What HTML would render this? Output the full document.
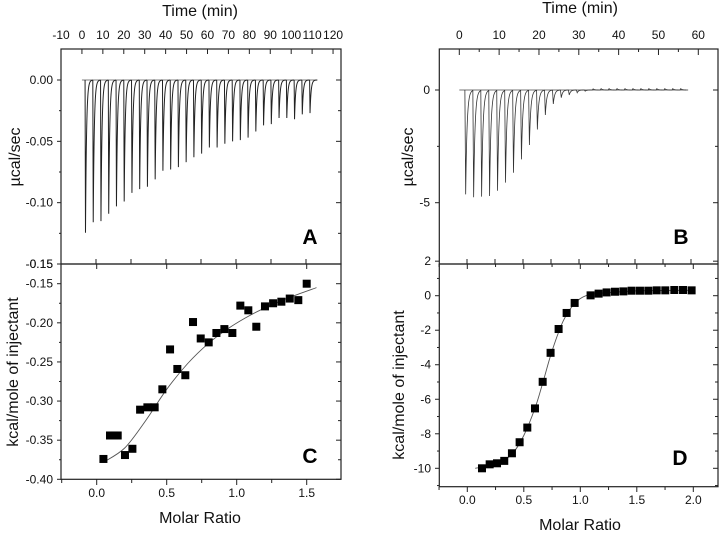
<!DOCTYPE html>
<html><head><meta charset="utf-8"><style>
html,body{margin:0;padding:0;background:#fff;}
svg{display:block;font-family:"Liberation Sans",Arial,sans-serif;}
.tl{font-size:12px;fill:#111;}
.at{font-size:16px;fill:#111;}
.pl{font-size:21px;font-weight:bold;fill:#000;}
</style></head><body>
<svg id="fig" width="720" height="533" viewBox="0 0 720 533">
<g id="root"></g>
</svg>
<script>
// Panel A thermogram
const aTimes = [1.7,5.4,9.1,12.8,16.5,20.2,23.9,27.6,31.3,35.0,38.7,42.4,46.1,49.8,53.5,57.2,60.9,64.6,68.3,72.0,75.7,79.4,83.1,86.8,90.5,94.2,97.9,101.6,105.3,109.0];
const aDepths = [-0.1245,-0.116,-0.115,-0.109,-0.103,-0.099,-0.092,-0.089,-0.087,-0.081,-0.074,-0.073,-0.071,-0.067,-0.063,-0.060,-0.055,-0.055,-0.052,-0.050,-0.049,-0.047,-0.042,-0.037,-0.036,-0.031,-0.031,-0.032,-0.028,-0.027];
const aTicksX = [-10,0,10,20,30,40,50,60,70,80,90,100,110,120];
const aTicksY = [0.00,-0.05,-0.10,-0.15];
const aTickLabelsY = ["0.00","-0.05","-0.10","-0.15"];
// Panel B thermogram
const bTimes = [1.6,3.6,5.6,7.6,9.6,11.6,13.6,15.6,17.6,19.6,21.6,23.6,25.6,27.6,29.6,31.6,33.6,35.6,37.6,39.6,41.6,43.6,45.6,47.6,49.6,51.6,53.6,55.6];
const bDepths = [-4.63,-4.76,-4.73,-4.70,-4.47,-4.11,-3.67,-3.08,-2.44,-1.75,-1.11,-0.62,-0.34,-0.22,-0.12,-0.05,0.05,0.06,0.06,0.06,0.06,0.06,0.06,0.06,0.06,0.06,0.06,0.06];
const bTicksX = [0,10,20,30,40,50,60];
const bTicksY = [0,-5];
// Panel C integrated heats
const cX = [0.048,0.095,0.126,0.150,0.202,0.255,0.310,0.362,0.414,0.469,0.524,0.576,0.633,0.688,0.743,0.800,0.855,0.912,0.969,1.026,1.083,1.140,1.202,1.260,1.319,1.379,1.440,1.500];
const cY = [-0.374,-0.344,-0.344,-0.344,-0.369,-0.361,-0.311,-0.308,-0.308,-0.285,-0.234,-0.259,-0.267,-0.199,-0.220,-0.225,-0.213,-0.208,-0.213,-0.178,-0.184,-0.205,-0.179,-0.175,-0.173,-0.169,-0.171,-0.150];
const cFitX = [0.05,0.2,0.35,0.5,0.65,0.8,0.95,1.1,1.25,1.4,1.57];
const cFitY = [-0.378,-0.360,-0.325,-0.285,-0.252,-0.226,-0.206,-0.190,-0.177,-0.166,-0.155];
const cTicksX = [0.0,0.5,1.0,1.5];
const cTickLabelsX = ["0.0","0.5","1.0","1.5"];
const cTicksY = [-0.15,-0.20,-0.25,-0.30,-0.35,-0.40];
const cTickLabelsY = ["-0.15","-0.20","-0.25","-0.30","-0.35","-0.40"];
// Panel D integrated heats
const dX = [0.130,0.198,0.263,0.327,0.395,0.463,0.531,0.599,0.667,0.737,0.808,0.879,0.950,1.091,1.162,1.233,1.307,1.381,1.454,1.528,1.602,1.676,1.752,1.832,1.909,1.985];
const dY = [-10.0,-9.77,-9.71,-9.57,-9.13,-8.49,-7.64,-6.53,-4.99,-3.31,-1.93,-1.00,-0.42,0.02,0.12,0.19,0.23,0.25,0.29,0.29,0.29,0.31,0.31,0.33,0.33,0.31];
const dFitX = [0.07,0.2,0.3,0.4,0.5,0.6,0.67,0.75,0.85,0.95,1.05,1.2,1.5,2.0];
const dFitY = [-10.0,-9.85,-9.6,-9.15,-8.1,-6.5,-5.0,-3.2,-1.45,-0.45,0.0,0.15,0.28,0.32];
const dTicksX = [0.0,0.5,1.0,1.5,2.0];
const dTickLabelsX = ["0.0","0.5","1.0","1.5","2.0"];
const dTicksY = [2,0,-2,-4,-6,-8,-10];

const NS="http://www.w3.org/2000/svg";
const root=document.getElementById('root');
function mk(tag,attrs,parent){const e=document.createElementNS(NS,tag);for(const k in attrs)e.setAttribute(k,attrs[k]);(parent||root).appendChild(e);return e;}
function lin(d0,d1,r0,r1){return v=>r0+(v-d0)*(r1-r0)/(d1-d0);}
function txt(x,y,s,cls,anchor,parent){const t=mk('text',{x:x,y:y,class:cls,'text-anchor':anchor||'middle'},parent);t.textContent=s;return t;}
function frame(x0,y0,x1,y1,name){const r=mk('rect',{x:x0,y:y0,width:x1-x0,height:y1-y0,fill:'none',stroke:'#222','stroke-width':1.2});}
function smooth(pts){let d='M'+pts[0][0]+','+pts[0][1];for(let i=0;i<pts.length-1;i++){const p0=pts[i-1]||pts[i],p1=pts[i],p2=pts[i+1],p3=pts[i+2]||p2;const c1=[p1[0]+(p2[0]-p0[0])/6,p1[1]+(p2[1]-p0[1])/6],c2=[p2[0]-(p3[0]-p1[0])/6,p2[1]-(p3[1]-p1[1])/6];d+=' C'+c1[0]+','+c1[1]+' '+c2[0]+','+c2[1]+' '+p2[0]+','+p2[1];}return d;}
function thermo(times,depths,xs,ys,tau,spacing,name,sw,col){
  const g=mk('g',{});
  let d='';
  for(let i=0;i<times.length;i++){
    const t=times[i],dep=depths[i];
    d+='M'+xs(t-0.2)+','+ys(0)+' L'+xs(t)+','+ys(dep);
    for(let s=0.05;s<=spacing*0.95;s+=0.05){d+=' L'+xs(t+s)+','+ys(dep*Math.exp(-s/tau));}
  }
  const p=mk('path',{d:d,fill:'none',stroke:col,'stroke-width':sw},g);
  
}

// ---------- Panel A ----------
const axA=lin(-10,123.8,61,341), ayA=lin(0,-0.15,80,264);
frame(61,49,341,264,'panel-a-frame');
aTicksX.forEach(v=>{const x=axA(v);mk('line',{x1:x,y1:49,x2:x,y2:54,stroke:'#222'});txt(x,39,String(v),'tl');});
[96,131,166,201,236,271,306].forEach(x=>{mk('line',{x1:x,y1:264,x2:x,y2:259,stroke:'#222'});});
aTicksY.forEach((v,i)=>{const y=ayA(v);mk('line',{x1:57,y1:y,x2:61,y2:y,stroke:'#222'});mk('line',{x1:341,y1:y,x2:336,y2:y,stroke:'#222'});txt(53,y+4,aTickLabelsY[i],'tl','end');});
[-0.025,-0.075,-0.125].forEach(v=>{const y=ayA(v);mk('line',{x1:59,y1:y,x2:61,y2:y,stroke:'#222'});mk('line',{x1:341,y1:y,x2:338,y2:y,stroke:'#222'});});
mk('line',{x1:axA(0),y1:ayA(0),x2:axA(112),y2:ayA(0),stroke:'#555','stroke-width':0.8});
thermo(aTimes,aDepths,axA,ayA,0.5,3.7,'panel-a-thermogram',1.0,'#222');
txt(200,16,'Time (min)','at');
const ta=txt(0,0,'µcal/sec','at');ta.setAttribute('transform','translate(20,157) rotate(-90)');
txt(310,244,'A','pl');

// ---------- Panel B ----------
const axB=lin(0,60,459.3,698.3), ayB=lin(0,-5,90,202.7);
frame(439.3,49,718,264,'panel-b-frame');
bTicksX.forEach(v=>{const x=axB(v);mk('line',{x1:x,y1:49,x2:x,y2:55,stroke:'#222'});txt(x,39,String(v),'tl');});
[5,15,25,35,45,55].forEach(v=>{const x=axB(v);mk('line',{x1:x,y1:49,x2:x,y2:52,stroke:'#222'});});
[467,495,523,551,579,607,635,663,691].forEach(x=>{mk('line',{x1:x,y1:264,x2:x,y2:259,stroke:'#222'});});
bTicksY.forEach(v=>{const y=ayB(v);mk('line',{x1:435,y1:y,x2:439.3,y2:y,stroke:'#222'});mk('line',{x1:718,y1:y,x2:713,y2:y,stroke:'#222'});txt(430,y+4,String(v),'tl','end');});
[-2.5].forEach(v=>{const y=ayB(v);mk('line',{x1:437,y1:y,x2:439.3,y2:y,stroke:'#222'});mk('line',{x1:718,y1:y,x2:715,y2:y,stroke:'#222'});});
mk('line',{x1:axB(0),y1:ayB(0),x2:axB(57),y2:ayB(0),stroke:'#444','stroke-width':0.8});
thermo(bTimes,bDepths,axB,ayB,0.35,2,'panel-b-thermogram',0.8,'#333');
txt(580,13,'Time (min)','at');
const tb=txt(0,0,'µcal/sec','at');tb.setAttribute('transform','translate(413,157) rotate(-90)');
txt(681,244,'B','pl');

// ---------- Panel C ----------
const axC=lin(0,1.5,96.7,306.7), ayC=lin(-0.15,-0.40,283.7,479.3);
frame(61,264,341,479.3,'panel-c-frame');
txt(53,268,'-0.15','tl','end');
cTicksX.forEach((v,i)=>{const x=axC(v);mk('line',{x1:x,y1:479.3,x2:x,y2:485,stroke:'#222'});mk('line',{x1:x,y1:264,x2:x,y2:269,stroke:'#222'});txt(x,497,cTickLabelsX[i],'tl');});
[-0.25,0.25,0.75,1.25,1.75].forEach(v=>{const x=axC(v);if(x>=61&&x<=341){mk('line',{x1:x,y1:479.3,x2:x,y2:483,stroke:'#222'});}});
cTicksY.forEach((v,i)=>{const y=ayC(v);mk('line',{x1:57,y1:y,x2:61,y2:y,stroke:'#222'});mk('line',{x1:341,y1:y,x2:336,y2:y,stroke:'#222'});txt(53,y+4,cTickLabelsY[i],'tl','end');});
[-0.175,-0.225,-0.275,-0.325,-0.375].forEach(v=>{const y=ayC(v);mk('line',{x1:59,y1:y,x2:61,y2:y,stroke:'#222'});mk('line',{x1:341,y1:y,x2:338,y2:y,stroke:'#222'});});
const cfit=mk('path',{d:smooth(cFitX.map((v,i)=>[axC(v),ayC(cFitY[i])])),fill:'none',stroke:'#555','stroke-width':0.9});

cX.forEach((v,i)=>{const r=mk('rect',{x:axC(v)-4,y:ayC(cY[i])-4,width:8,height:8,fill:'#000'});

});
txt(200,523,'Molar Ratio','at');
const tc=txt(0,0,'kcal/mole of injectant','at');tc.setAttribute('transform','translate(18,372) rotate(-90)');
txt(310,463,'C','pl');

// ---------- Panel D ----------
const axD=lin(0,2,467.3,693.3), ayD=lin(0,-10,295.7,468.3);
frame(439.3,264,718,486.7,'panel-d-frame');
dTicksX.forEach((v,i)=>{const x=axD(v);mk('line',{x1:x,y1:486.7,x2:x,y2:492,stroke:'#222'});mk('line',{x1:x,y1:264,x2:x,y2:269,stroke:'#222'});txt(x,504,dTickLabelsX[i],'tl');});
[-0.25,0.25,0.75,1.25,1.75].forEach(v=>{const x=axD(v);mk('line',{x1:x,y1:486.7,x2:x,y2:490,stroke:'#222'});mk('line',{x1:x,y1:264,x2:x,y2:267,stroke:'#222'});});
dTicksY.forEach(v=>{const y=ayD(v);mk('line',{x1:435,y1:y,x2:439.3,y2:y,stroke:'#222'});mk('line',{x1:718,y1:y,x2:713,y2:y,stroke:'#222'});txt(431,y+4,String(v),'tl','end');});
[1,-1,-3,-5,-7,-9,-11].forEach(v=>{const y=ayD(v);mk('line',{x1:437,y1:y,x2:439.3,y2:y,stroke:'#222'});mk('line',{x1:718,y1:y,x2:715,y2:y,stroke:'#222'});});
const dfit=mk('path',{d:smooth(dFitX.map((v,i)=>[axD(v),ayD(dFitY[i])])),fill:'none',stroke:'#555','stroke-width':0.9});

dX.forEach((v,i)=>{const r=mk('rect',{x:axD(v)-4,y:ayD(dY[i])-4,width:8,height:8,fill:'#000'});

});
txt(580,530,'Molar Ratio','at');
const td=txt(0,0,'kcal/mole of injectant','at');td.setAttribute('transform','translate(404,385) rotate(-90)');
txt(680,465,'D','pl');
</script>
</body></html>
